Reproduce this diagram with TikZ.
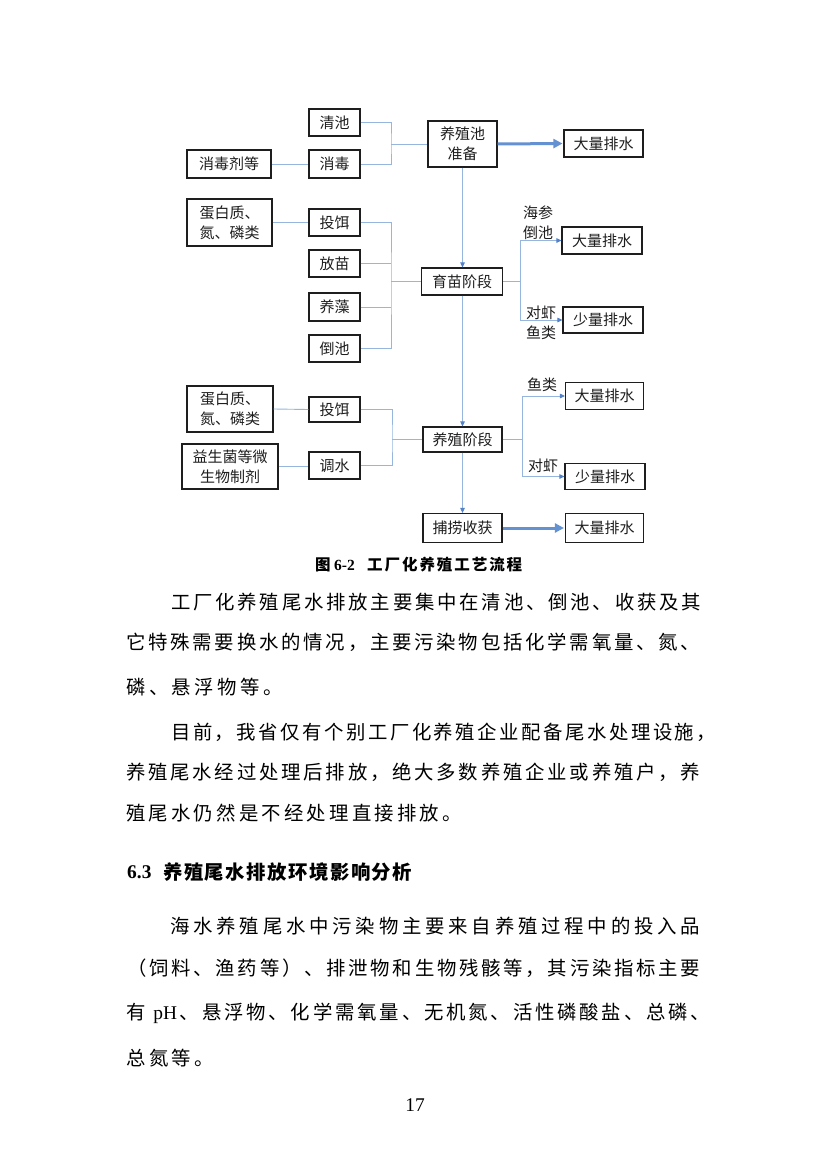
\documentclass[tikz,border=0pt]{standalone}
\usepackage{fontspec}
\usetikzlibrary{arrows.meta}
\setmainfont{Liberation Serif}
\newfontfamily\cjk{Noto Sans CJK SC}
\newcommand\boxfont{\cjk\fontsize{15pt}{20pt}\selectfont}
\newcommand\bodyfont{\cjk\fontsize{19.4pt}{23pt}\selectfont}
\makeatletter
\newcommand\spreadline[2]{\hbox to #1{\@tfor\sp@x:=#2\do{\sp@x\hfil}\unskip}}
\makeatother
\definecolor{lineblue}{RGB}{150,182,222}
\definecolor{arrowblue}{RGB}{84,130,200}
\definecolor{thickblue}{RGB}{100,145,210}
\definecolor{inkgray}{RGB}{30,30,30}
\tikzset{
  dbox/.style={draw=inkgray, line width=1.1pt, inner sep=0pt, font=\boxfont, align=center, text=inkgray},
  conn/.style={draw=lineblue, line width=0.9pt},
  tipthin/.style={-{Triangle[length=5pt,width=4.5pt,color=arrowblue]}},
  bigarrow/.style={draw=thickblue, line width=3pt, -{Triangle[length=9pt,width=9pt]}, shorten >=1pt},
  lbl/.style={font=\boxfont, text=inkgray, align=center, inner sep=0pt},
  bodyline/.style={anchor=west, inner sep=0pt, text=black},
}
\begin{document}
\begin{tikzpicture}[x=1pt,y=-1pt]
\fill[white] (0,0) rectangle (826,1169);
\useasboundingbox (0,0) rectangle (826,1169);

% ---- boxes ----
\node[dbox, minimum width=51pt, minimum height=27pt] (qingchi) at (334.5,122.5) {清池};
\node[dbox, minimum width=51pt, minimum height=28pt] (xiaodu) at (334.5,164) {消毒};
\node[dbox, minimum width=84pt, minimum height=28pt] (xdj) at (229,164) {消毒剂等};
\node[dbox, minimum width=69pt, minimum height=46pt] (prep) at (462.5,144) {养殖池\\准备};
\node[dbox, minimum width=79pt, minimum height=27pt] (out1) at (603.5,143.5) {大量排水};

\node[dbox, minimum width=85pt, minimum height=47pt] (dbz1) at (229.5,222.5) {蛋白质、\\氮、磷类};
\node[dbox, minimum width=51pt, minimum height=27pt] (tw1) at (334.5,222.5) {投饵};
\node[dbox, minimum width=51pt, minimum height=27pt] (fm) at (334.5,263.5) {放苗};
\node[dbox, minimum width=51pt, minimum height=28pt] (yz) at (334.5,307) {养藻};
\node[dbox, minimum width=51pt, minimum height=27pt] (dc) at (334.5,348.5) {倒池};
\node[dbox, minimum width=81pt, minimum height=27pt] (ym) at (462,281.5) {育苗阶段};
\node[dbox, minimum width=80pt, minimum height=27pt] (out2) at (602,240.5) {大量排水};
\node[dbox, minimum width=80pt, minimum height=26pt] (out3) at (603,320) {少量排水};

\node[dbox, minimum width=86pt, minimum height=46pt] (dbz2) at (230,409) {蛋白质、\\氮、磷类};
\node[dbox, minimum width=51pt, minimum height=25pt] (tw2) at (334.5,409.5) {投饵};
\node[dbox, minimum width=96pt, minimum height=45pt] (ysj) at (230,466.5) {益生菌等微\\生物制剂};
\node[dbox, minimum width=51pt, minimum height=27pt] (ts) at (334.5,465.5) {调水};
\node[dbox, minimum width=79pt, minimum height=25pt] (yzj) at (462.5,439.5) {养殖阶段};
\node[dbox, minimum width=78pt, minimum height=27pt] (out4) at (604.5,396) {大量排水};
\node[dbox, minimum width=80pt, minimum height=26pt] (out5) at (605,476.5) {少量排水};
\node[dbox, minimum width=79pt, minimum height=29pt] (bl) at (462.5,528) {捕捞收获};
\node[dbox, minimum width=78pt, minimum height=29pt] (out6) at (604.5,528) {大量排水};

% ---- labels ----
\node[lbl] (l1) at (538,222.5) {海参\\倒池};
\node[lbl] (l2) at (541,323) {对虾\\鱼类};
\node[lbl] (l3) at (542,385) {鱼类};
\node[lbl] (l4) at (543,466) {对虾};

% ---- junctions ----
\coordinate (j1) at (391,144);
\coordinate (j2) at (391,281.5);
\coordinate (j3) at (520,281.5);
\coordinate (j4) at (392,439.5);
\coordinate (j5) at (522,439.5);

% ---- connectors ----
\draw[conn] (qingchi.east) -| (j1) |- (xiaodu.east);
\draw[conn] (j1) -- (prep.west);
\draw[conn] (xdj.east) -- (xiaodu.west);
\draw[bigarrow] (prep.east) -- (out1.west);
\draw[conn, tipthin] (prep.south) -- (prep.south |- ym.north);

\draw[conn] (dbz1.east) -- (tw1.west);
\draw[conn] (tw1.east) -| (j2) |- (dc.east);
\draw[conn] (fm.east) -- (fm.east -| j2);
\draw[conn] (yz.east) -- (yz.east -| j2);
\draw[conn] (j2) -- (ym.west);
\draw[conn] (ym.east) -- (j3);
\draw[conn, tipthin] (j3) |- (out2.west);
\draw[conn, tipthin] (j3) |- (out3.west);
\draw[conn, tipthin] (prep.south |- ym.south) -- (prep.south |- yzj.north);

\draw[conn] (dbz2.east) -- (tw2.west);
\draw[conn] (ysj.east) -- (ysj.east -| ts.west);
\draw[conn] (tw2.east) -| (j4) |- (ts.east);
\draw[conn] (j4) -- (yzj.west);
\draw[conn] (yzj.east) -- (j5);
\draw[conn, tipthin] (j5) |- (out4.west);
\draw[conn, tipthin] (j5) |- (out5.west);
\draw[conn, tipthin] (yzj.south) -- (bl.north);
\draw[bigarrow] (bl.east) -- (out6.west);

% ---- caption ----
\node[bodyline] (cap1) at (315,565) {\cjk\bfseries\fontsize{15.5pt}{18pt}\selectfont 图};
\node[bodyline] (cap2) at (334,565) {\bfseries\fontsize{15.5pt}{18pt}\selectfont 6-2};
\node[bodyline] (cap3) at (367,565) {\cjk\bfseries\fontsize{15.5pt}{18pt}\selectfont\spreadline{155pt}{工厂化养殖工艺流程}};

% ---- paragraph 1 ----
\node[bodyline] (p1) at (171,602) {\bodyfont\spreadline{530pt}{工厂化养殖尾水排放主要集中在清池、倒池、收获及其}};
\node[bodyline] (p2) at (126,642) {\bodyfont\spreadline{574pt}{它特殊需要换水的情况，主要污染物包括化学需氧量、氮、}};
\node[bodyline] (p3) at (126,687) {\bodyfont\spreadline{156.8pt}{磷、悬浮物等。}};
% ---- paragraph 2 ----
\node[bodyline] (p4) at (171,732) {\bodyfont\spreadline{545pt}{目前，我省仅有个别工厂化养殖企业配备尾水处理设施，}};
\node[bodyline] (p5) at (126,772) {\bodyfont\spreadline{574pt}{养殖尾水经过处理后排放，绝大多数养殖企业或养殖户，养}};
\node[bodyline] (p6) at (126,813) {\bodyfont\spreadline{335.8pt}{殖尾水仍然是不经处理直接排放。}};

% ---- heading ----
\node[bodyline] (h1) at (127,872) {\bfseries\fontsize{19.4pt}{23pt}\selectfont 6.3};
\node[bodyline] (h2) at (163,872) {\cjk\bfseries\fontsize{19.4pt}{23pt}\selectfont\spreadline{249pt}{养殖尾水排放环境影响分析}};

% ---- paragraph 3 ----
\node[bodyline] (q1) at (170,926) {\bodyfont\spreadline{530pt}{海水养殖尾水中污染物主要来自养殖过程中的投入品}};
\node[bodyline] (q2) at (127,968) {\bodyfont\spreadline{573pt}{（饲料、渔药等）、排泄物和生物残骸等，其污染指标主要}};
\node[bodyline] (q3) at (126,1013) {\bodyfont\spreadline{584pt}{有{{\rmfamily\hspace{5pt}pH}}、悬浮物、化学需氧量、无机氮、活性磷酸盐、总磷、}};
\node[bodyline] (q4) at (126,1058) {\bodyfont\spreadline{88.1pt}{总氮等。}};

% ---- page number ----
\node[inner sep=0pt] (pg) at (415,1105) {\fontsize{19.4pt}{23pt}\selectfont 17};
\end{tikzpicture}
\end{document}
